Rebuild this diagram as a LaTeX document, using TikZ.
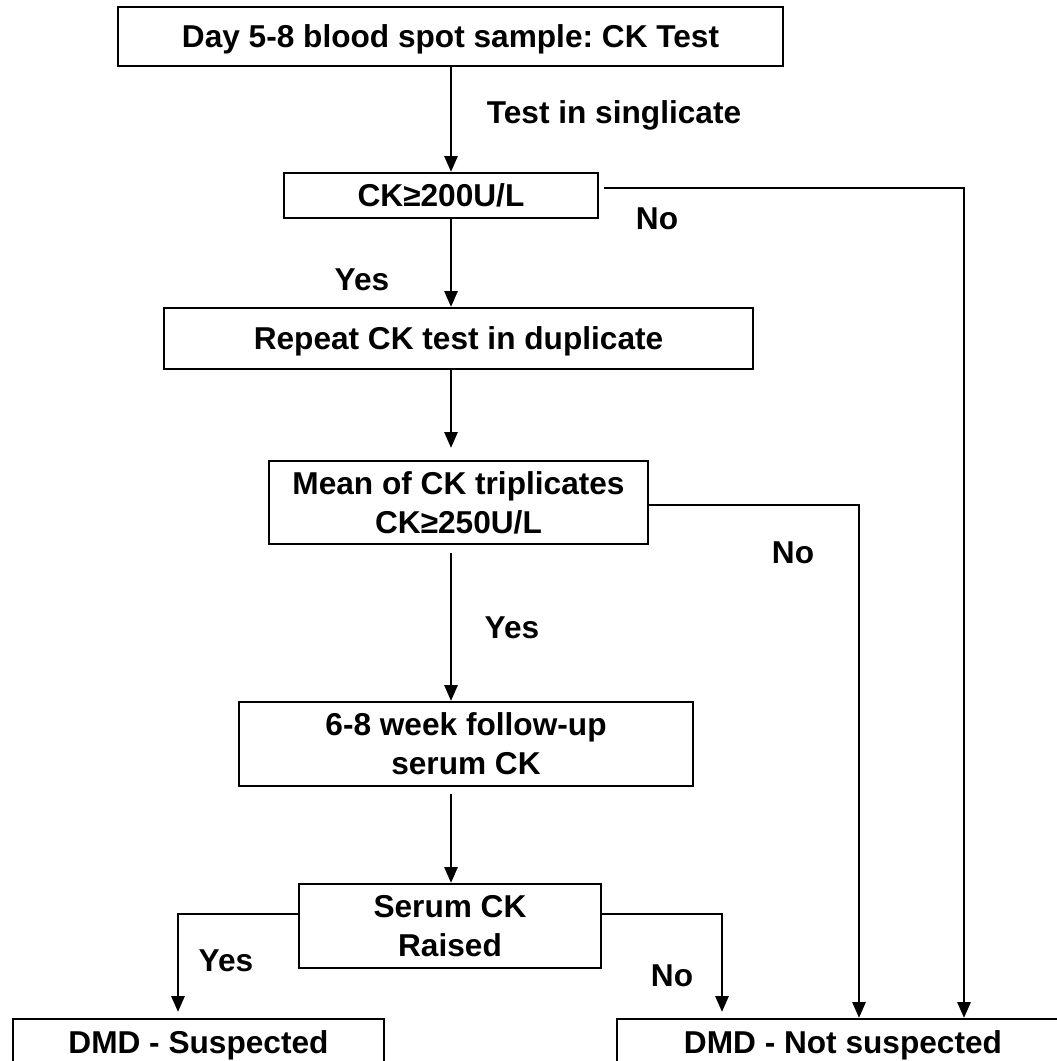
\documentclass[tikz,border=0pt]{standalone}
\usepackage{fontspec}
\setmainfont{Liberation Sans}
\frenchspacing
\usetikzlibrary{arrows.meta}
\tikzset{
  box/.style={draw, line width=1.3pt, inner sep=0pt, align=center, text depth=0pt,
    font=\bfseries\fontsize{18}{22.2}\selectfont},
  lbl/.style={anchor=base, inner sep=0pt, font=\bfseries\fontsize{18}{22.2}\selectfont},
  arr/.style={line width=1.3pt, -{Triangle[length=9pt,width=7.5pt]}},
  wire/.style={line width=1.3pt}
}
\begin{document}
\begin{tikzpicture}[x=0.02cm, y=-0.02cm]
      \useasboundingbox (0,0) rectangle (1056,1061);
      \draw
        (450.5,36.5) node[box, minimum width=13.3cm, minimum height=1.18cm] (top){Day 5-8 blood spot sample: CK Test}
        (441,195.5) node[box, minimum width=6.28cm, minimum height=0.9cm] (ck200){CK≥200U/L}
        (458.5,338.5) node[box, minimum width=11.78cm, minimum height=1.22cm] (repeat){Repeat CK test in duplicate}
        (458.5,502.5) node[box, minimum width=7.58cm, minimum height=1.66cm] (mean){Mean of CK triplicates\\CK≥250U/L}
        (466,744) node[box, minimum width=9.08cm, minimum height=1.68cm] (follow){6-8 week follow-up\\ serum CK}
        (450,926) node[box, minimum width=6.04cm, minimum height=1.68cm] (serum){Serum CK\\Raised}
        (198.5,1042) node[box, minimum width=7.42cm, minimum height=0.92cm] (susp){DMD - Suspected}
        (843,1042) node[box, minimum width=9.04cm, minimum height=0.92cm] (notsusp){DMD - Not suspected};
      \coordinate (col) at (451,0);
      \coordinate (no1) at (964,188);
      \coordinate (no2) at (859,505);
      \coordinate (yes3) at (178,914);
      \coordinate (no3) at (722,914);
      \begin{scope}[arr]
        \draw (top.south -| col) to (ck200.north -| col);
        \draw (ck200.south -| col) to (repeat.north -| col);
        \draw[shorten >=0.24cm] (repeat.south -| col) to (mean.north -| col);
        \draw[shorten <=0.16cm] (mean.south -| col) to (follow.north -| col);
        \draw[shorten <=0.14cm] (follow.south -| col) to (serum.north -| col);
        \draw[shorten <=0.1cm] (ck200.east |- no1) -- (no1) -- (no1 |- notsusp.north);
        \draw (mean.east |- no2) -- (no2) -- (no2 |- notsusp.north);
        \draw[shorten >=0.12cm] (serum.west |- yes3) -- (yes3) -- (yes3 |- susp.north);
        \draw[shorten >=0.12cm] (serum.east |- no3) -- (no3) -- (no3 |- notsusp.north);
      \end{scope}
      \draw
        (614,124) node[lbl] (single){Test in singlicate}
        (657,229) node[lbl] (no1lbl){No}
        (362,290) node[lbl] (yes1lbl){Yes}
        (793,563) node[lbl] (no2lbl){No}
        (512,638) node[lbl] (yes2lbl){Yes}
        (226,971) node[lbl] (yes3lbl){Yes}
        (672,986) node[lbl] (no3lbl){No};
    \end{tikzpicture}
\end{document}
